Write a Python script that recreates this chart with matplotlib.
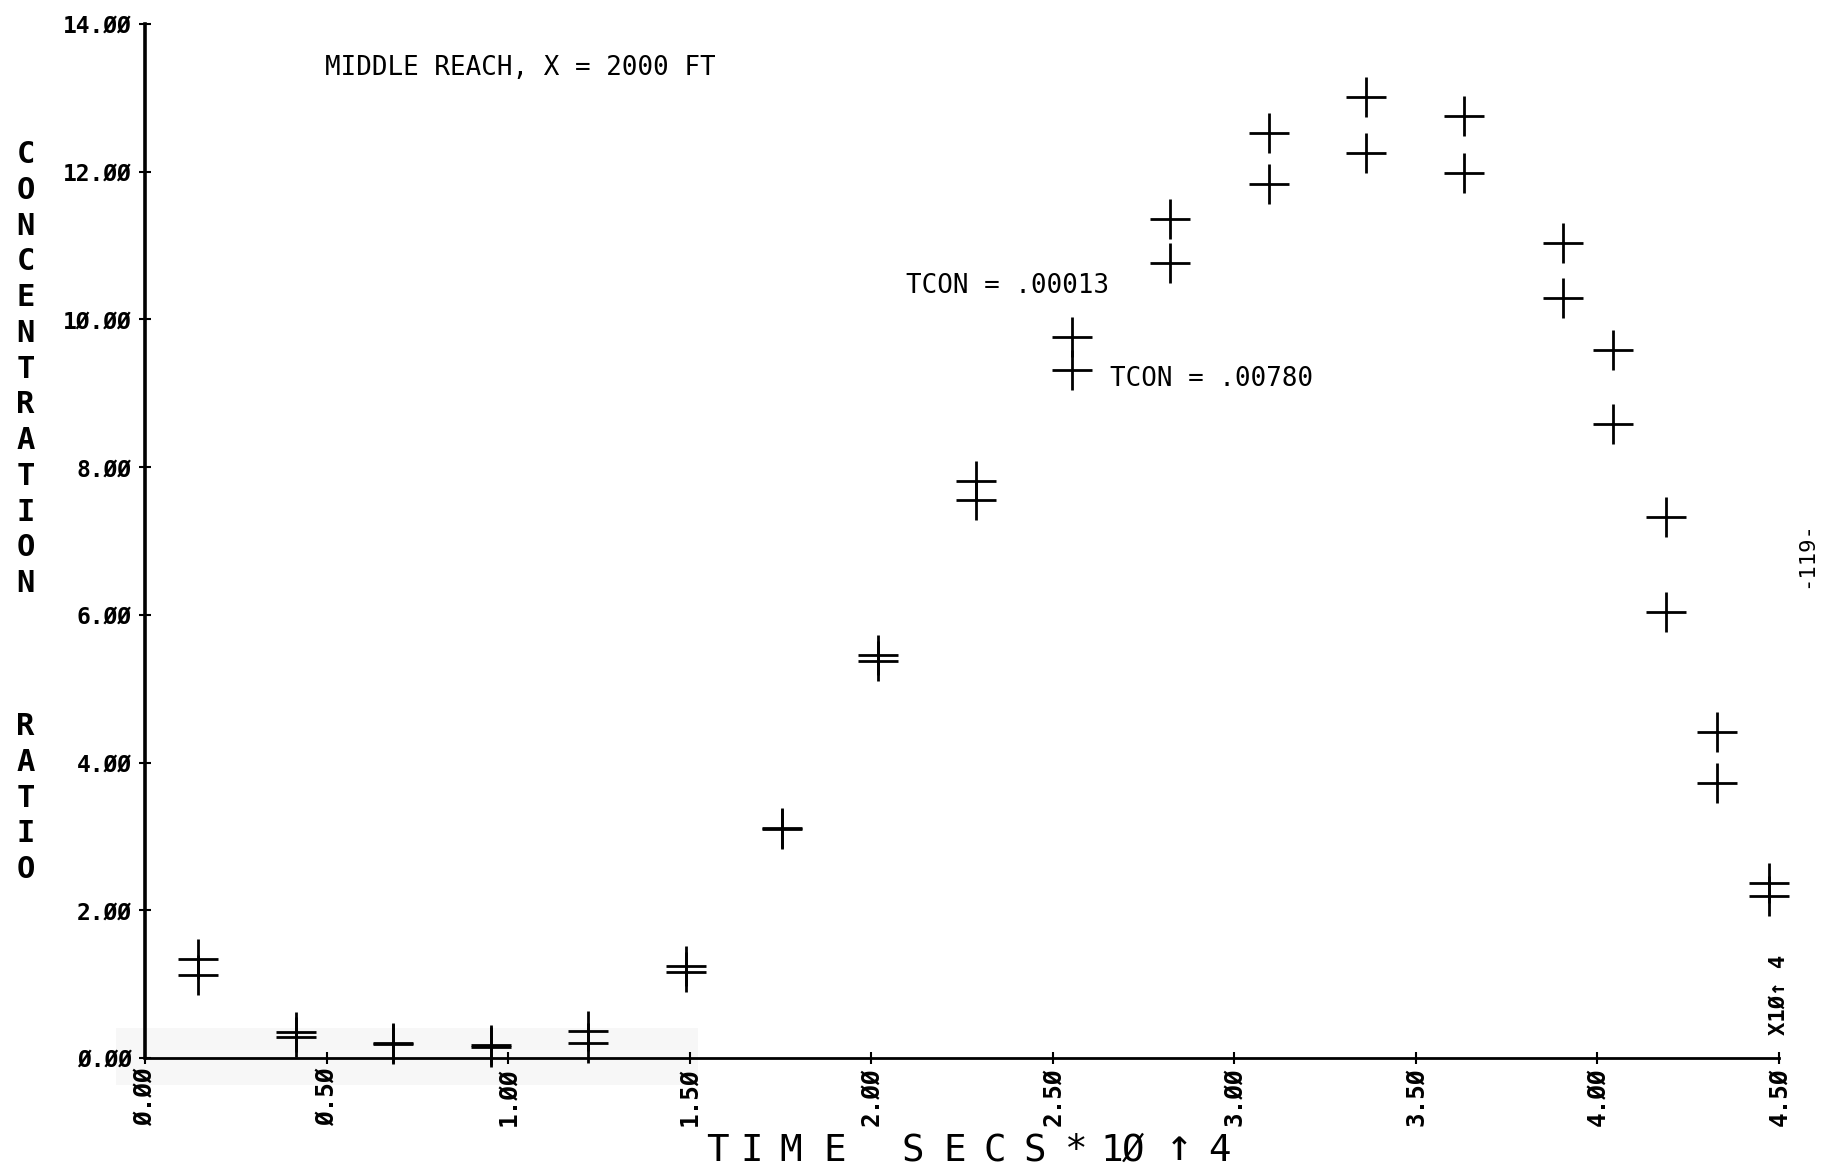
import matplotlib
matplotlib.use("Agg")
import matplotlib.pyplot as plt
from matplotlib.patches import Rectangle
from matplotlib.ticker import FuncFormatter

# Time (secs * 10^4) of each sample
time = [0.147, 0.416, 0.684, 0.952, 1.219, 1.489, 1.754, 2.020, 2.288, 2.552,
        2.823, 3.095, 3.363, 3.633, 3.906, 4.043, 4.188, 4.328, 4.473]

# Concentration ratio for the two TCON values
ratio_tcon_00013 = [1.34, 0.35, 0.20, 0.17, 0.37, 1.25, 3.12, 5.46, 7.81, 9.76,
                    11.36, 12.53, 13.01, 12.75, 11.03, 9.58, 7.32, 4.42, 2.37]
ratio_tcon_00780 = [1.12, 0.28, 0.19, 0.15, 0.20, 1.16, 3.10, 5.38, 7.55, 9.31,
                    10.77, 11.83, 12.25, 11.98, 10.29, 8.58, 6.04, 3.73, 2.19]

x_ticks = [0.0, 0.5, 1.0, 1.5, 2.0, 2.5, 3.0, 3.5, 4.0, 4.5]
y_ticks = [0, 2, 4, 6, 8, 10, 12, 14]

title_text = "MIDDLE REACH, X = 2000 FT"
label_a = "TCON = .00013"
label_b = "TCON = .00780"
ylabel_words = ["CONCENTRATION", "RATIO"]
xlabel_tokens = ["T", "I", "M", "E", "S", "E", "C", "S", "*", "1", "Ø", "↑", "4"]
scale_note = "X1Ø↑ 4"
page_number = "-119-"

MONO = "DejaVu Sans Mono"
W, H = 1823, 1172

fig = plt.figure(figsize=(W / 100, H / 100), dpi=100)
fig.patch.set_facecolor("white")

x0, x1 = 145, 1779
y0, y1 = 1058, 24
ax = fig.add_axes([x0 / W, 1 - y0 / H, (x1 - x0) / W, (y0 - y1) / H])
ax.set_xlim(0, 4.5)
ax.set_ylim(0, 14)

# faint grey smudge along the left part of the time axis, kept behind everything
ax.add_patch(Rectangle((116 / W, 1 - 1085 / H), (698 - 116) / W, (1085 - 1028) / H,
                       transform=fig.transFigure, facecolor="#f7f7f7",
                       edgecolor="none", zorder=0.2, clip_on=False))

for s in ("top", "right"):
    ax.spines[s].set_visible(False)
ax.spines["left"].set_linewidth(2.6)
ax.spines["bottom"].set_linewidth(2.0)


def slashed(v, pos):
    return f"{v:.2f}".replace("0", "Ø")


ax.set_xticks(x_ticks)
ax.set_yticks(y_ticks)
ax.xaxis.set_major_formatter(FuncFormatter(slashed))
ax.yaxis.set_major_formatter(FuncFormatter(slashed))
ax.tick_params(axis="both", direction="inout", length=9, width=1.5, color="black")
ax.tick_params(axis="y", pad=5)
ax.tick_params(axis="x", pad=2)
for lab in ax.get_yticklabels():
    lab.set_fontfamily(MONO)
    lab.set_fontweight("bold")
    lab.set_fontsize(16.5)
for lab in ax.get_xticklabels():
    lab.set_fontfamily(MONO)
    lab.set_fontweight("bold")
    lab.set_fontsize(17.5)
    lab.set_rotation(90)
    lab.set_va("top")
    lab.set_ha("center")

# Both runs drawn as plus markers
for series in (ratio_tcon_00013, ratio_tcon_00780):
    ax.plot(time, series, linestyle="none", marker="+", markersize=29,
            markeredgewidth=2.0, color="black", clip_on=False)

ax.text(0.497, 13.41, title_text, family=MONO, fontsize=18.6, ha="left", va="center")
ax.text(2.096, 10.45, label_a, family=MONO, fontsize=18.6, ha="left", va="center")
ax.text(2.657, 9.19, label_b, family=MONO, fontsize=18.6, ha="left", va="center")

ax.text(4.5, 0.31, scale_note, family=MONO, fontweight="bold", fontsize=16,
        rotation=90, ha="center", va="bottom")

# Vertical stacked y-axis title
ypos = 154.6
for wi, word in enumerate(ylabel_words):
    if wi == 1:
        ypos = 726.6
    for ch in word:
        fig.text(25.6 / W, 1 - ypos / H, ch, family=MONO, fontweight="bold",
                 fontsize=22, ha="center", va="center")
        ypos += 35.75

# Spaced x-axis title
xl_centers = [717, 752, 791, 835, 913, 955, 995, 1035, 1076, 1112, 1133, 1179, 1220]
for ch, cx in zip(xlabel_tokens, xl_centers):
    if ch == "↑":
        fig.text(cx / W, 1 - 1148 / H, ch, family=MONO, fontsize=32,
                 ha="center", va="center")
    else:
        fig.text(cx / W, 1 - 1151 / H, ch, family=MONO, fontsize=27,
                 ha="center", va="center")

fig.text(1806 / W, 1 - 555 / H, page_number, family=MONO, fontsize=16,
         rotation=90, ha="center", va="center")

fig.savefig("out.png", dpi=100, facecolor="white")
